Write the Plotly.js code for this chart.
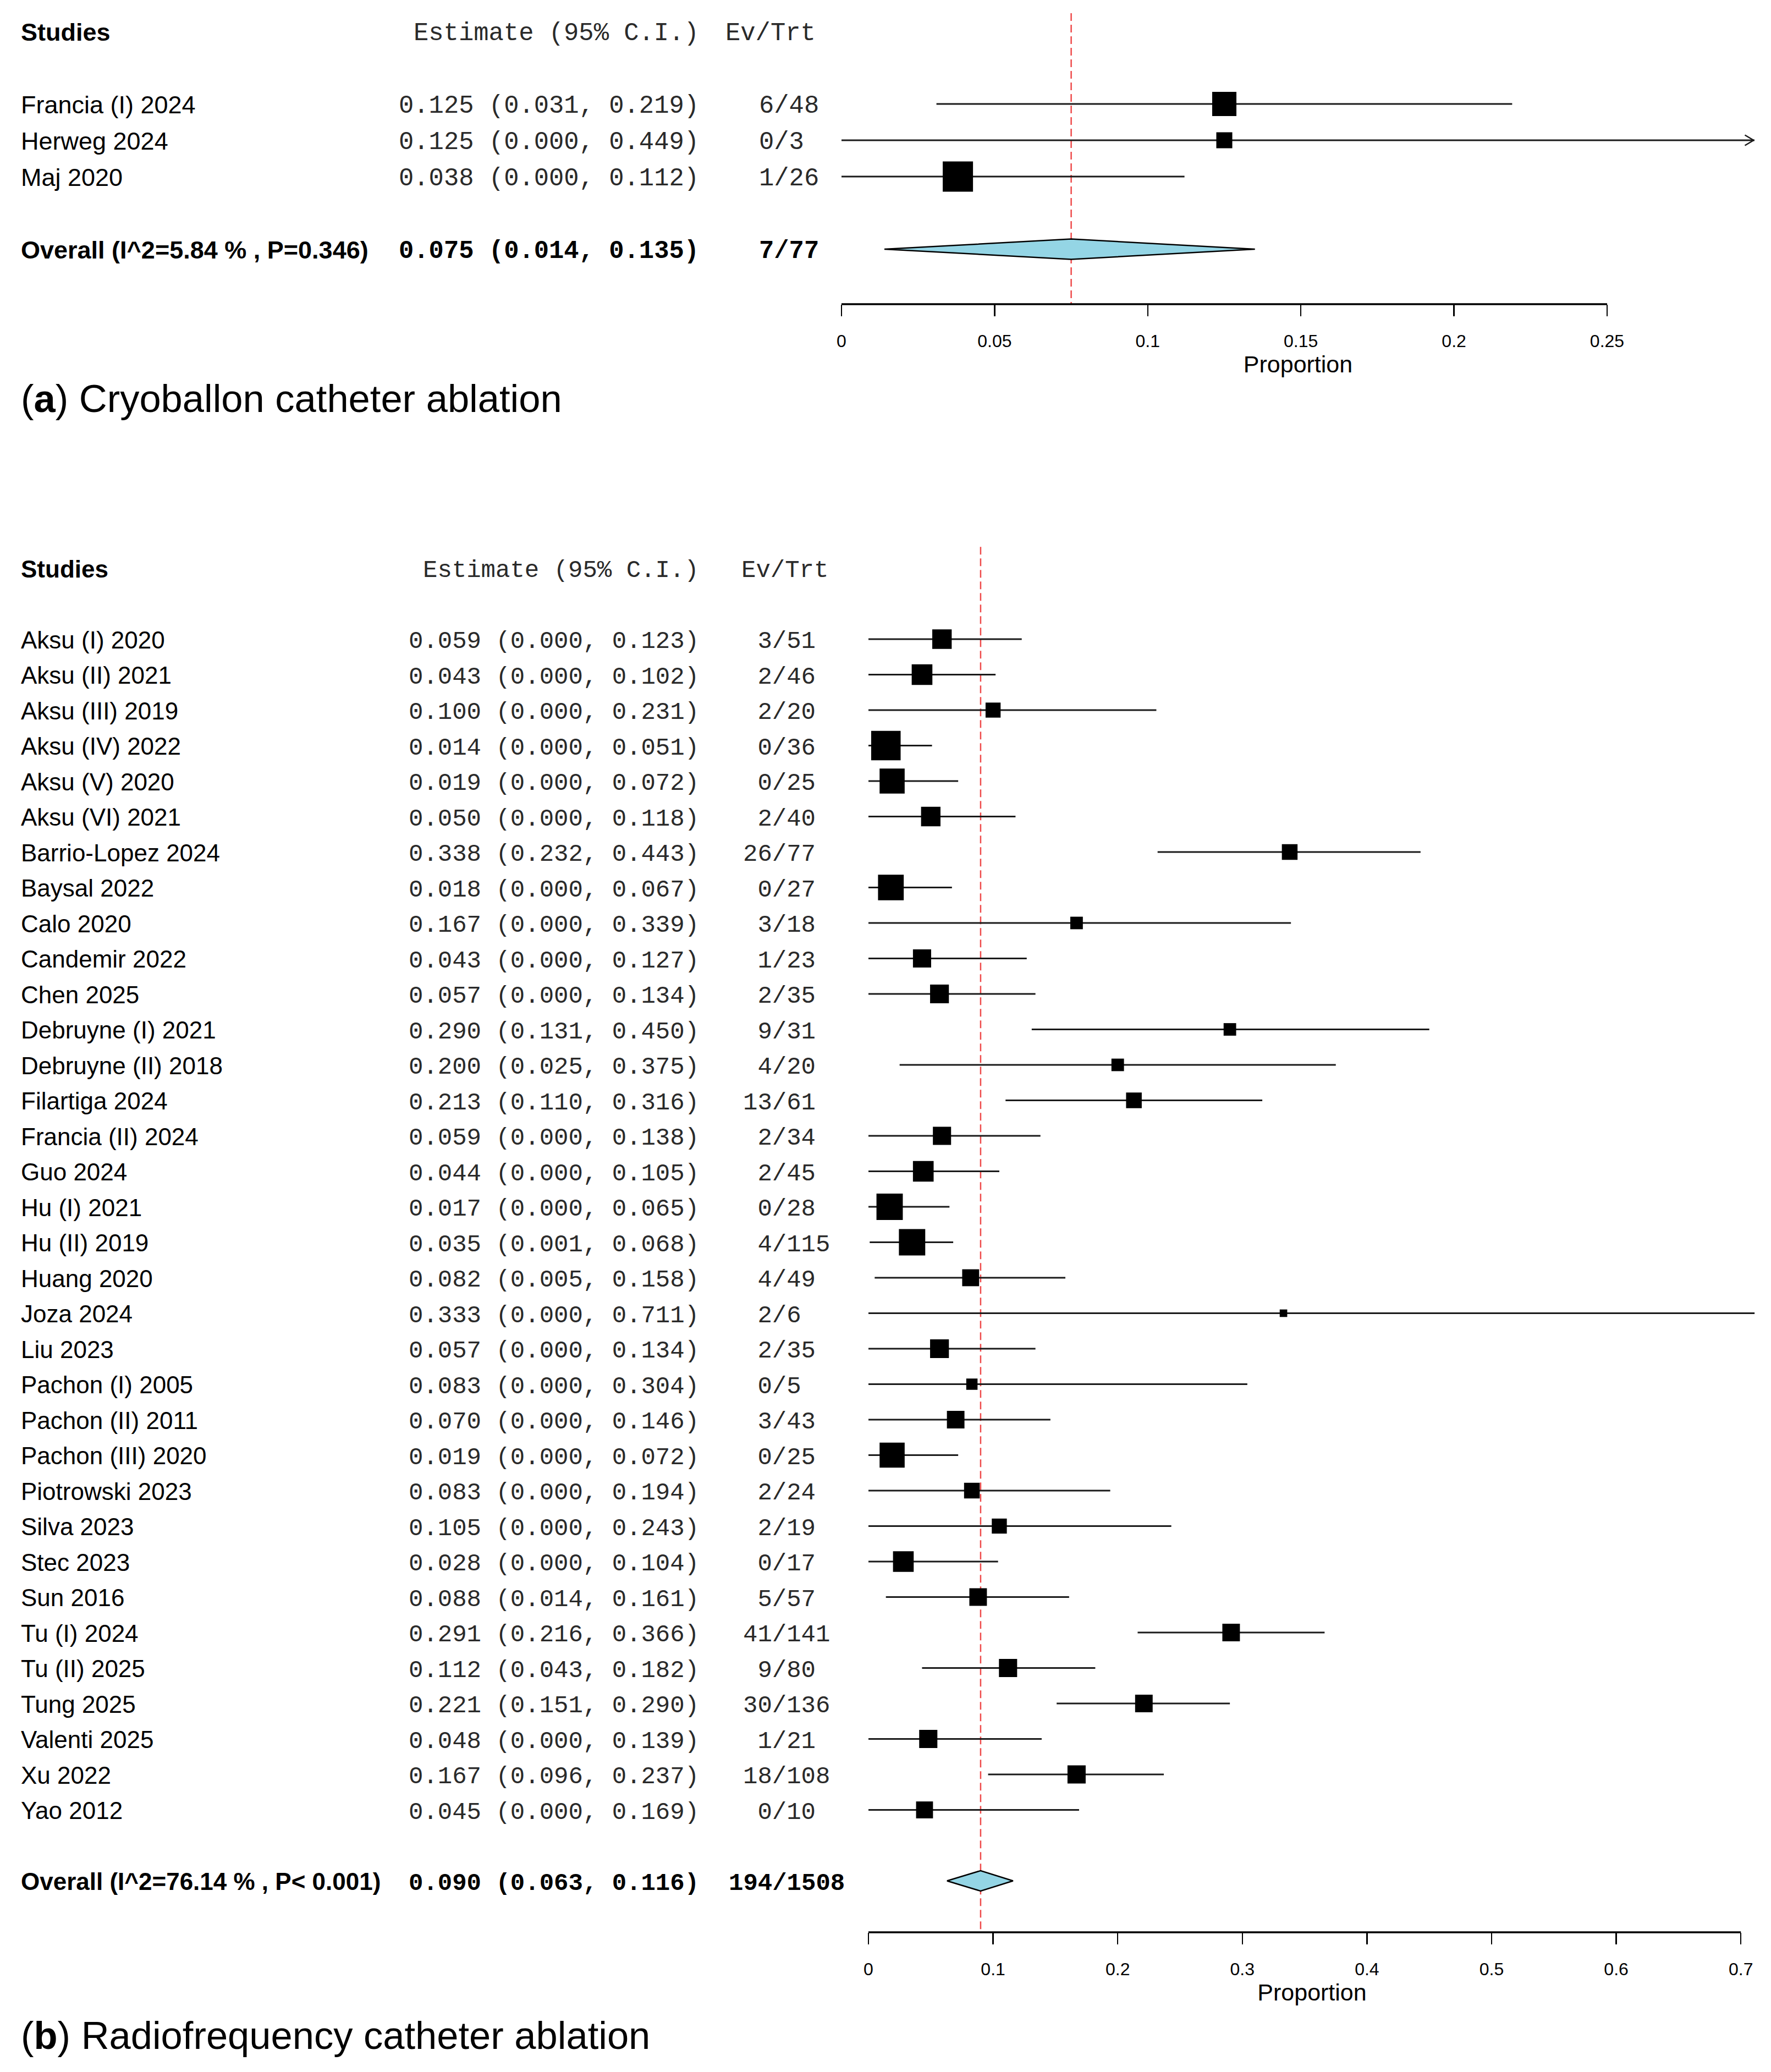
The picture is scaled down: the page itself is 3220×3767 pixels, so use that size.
<!DOCTYPE html>
<html><head><meta charset="utf-8">
<script src="https://cdn.plot.ly/plotly-3.0.1.min.js"></script>
<style>html,body{margin:0;padding:0;background:#fff}</style>
</head><body>
<div id="chart" style="width:3220px;height:3767px"></div>
<script>
// ---------------- DATA ----------------
// (a) Cryoballoon
const studiesA = ["Francia (I) 2024", "Herweg 2024", "Maj 2020"];
const estA = [0.125, 0.125, 0.038];
const lowA = [0.031, 0.000, 0.000];
const upA  = [0.219, 0.449, 0.112];
const evA  = [6, 0, 1];
const trtA = [48, 3, 26];
const weightA = [34.4, 22.7, 43.0];
const overallA = [0.075, 0.014, 0.135];
const overallEvTrtA = [7, 77];
const overallLabelA = "Overall (I^2=5.84 % , P=0.346)";
const tickValsA = [0, 0.05, 0.1, 0.15, 0.2, 0.25];
const tickTextA = ["0", "0.05", "0.1", "0.15", "0.2", "0.25"];

// (b) Radiofrequency
const studiesB = ["Aksu (I) 2020","Aksu (II) 2021","Aksu (III) 2019","Aksu (IV) 2022","Aksu (V) 2020","Aksu (VI) 2021",
  "Barrio-Lopez 2024","Baysal 2022","Calo 2020","Candemir 2022","Chen 2025","Debruyne (I) 2021","Debruyne (II) 2018",
  "Filartiga 2024","Francia (II) 2024","Guo 2024","Hu (I) 2021","Hu (II) 2019","Huang 2020","Joza 2024","Liu 2023",
  "Pachon (I) 2005","Pachon (II) 2011","Pachon (III) 2020","Piotrowski 2023","Silva 2023","Stec 2023","Sun 2016",
  "Tu (I) 2024","Tu (II) 2025","Tung 2025","Valenti 2025","Xu 2022","Yao 2012"];
const estB = [0.059,0.043,0.100,0.014,0.019,0.050,0.338,0.018,0.167,0.043,0.057,0.290,0.200,0.213,0.059,0.044,0.017,0.035,
  0.082,0.333,0.057,0.083,0.070,0.019,0.083,0.105,0.028,0.088,0.291,0.112,0.221,0.048,0.167,0.045];
const lowB = [0.000,0.000,0.000,0.000,0.000,0.000,0.232,0.000,0.000,0.000,0.000,0.131,0.025,0.110,0.000,0.000,0.000,0.001,
  0.005,0.000,0.000,0.000,0.000,0.000,0.000,0.000,0.000,0.014,0.216,0.043,0.151,0.000,0.096,0.000];
const upB  = [0.123,0.102,0.231,0.051,0.072,0.118,0.443,0.067,0.339,0.127,0.134,0.450,0.375,0.316,0.138,0.105,0.065,0.068,
  0.158,0.711,0.134,0.304,0.146,0.072,0.194,0.243,0.104,0.161,0.366,0.182,0.290,0.139,0.237,0.169];
const evB  = [3,2,2,0,0,2,26,0,3,1,2,9,4,13,2,2,0,4,4,2,2,0,3,0,2,2,0,5,41,9,30,1,18,0];
const trtB = [51,46,20,36,25,40,77,27,18,23,35,31,20,61,34,45,28,115,49,6,35,5,43,25,24,19,17,57,141,80,136,21,108,10];
const weightB = [3.1,3.3,2.4,4.7,4.0,3.1,2.5,4.1,2.0,2.9,3.0,2.0,2.0,2.5,2.9,3.3,4.2,4.2,2.7,1.2,3.0,1.8,2.8,4.0,
  2.5,2.4,3.3,2.8,2.8,2.9,2.8,2.9,2.9,2.7];
const overallB = [0.090, 0.063, 0.116];
const overallEvTrtB = [194, 1508];
const overallLabelB = "Overall (I^2=76.14 % , P< 0.001)";
const tickValsB = [0, 0.1, 0.2, 0.3, 0.4, 0.5, 0.6, 0.7];
const tickTextB = ["0", "0.1", "0.2", "0.3", "0.4", "0.5", "0.6", "0.7"];

// ---------------- LAYOUT GEOMETRY ----------------
const W = 3220, H = 3767;
const SANS = 'Arial, "Liberation Sans", sans-serif';
const MONO = '"Courier New", "Liberation Mono", monospace';
const NB = "\u00A0";

const panels = [
  { key: "", studies: studiesA, est: estA, low: lowA, up: upA, ev: evA, trt: trtA, w: weightA, boxScale: 1.28,
    ov: overallA, ovET: overallEvTrtA, ovLabel: overallLabelA, tv: tickValsA, tt: tickTextA, axisMax: 0.25,
    rowTop: 189, step: 66, axisPx: 553, topPx: 0, x0Px: 1530, ppu: 5568, rightPx: 3190,
    nameSize: 45, monoSize: 45.5, estRight: 1273, evCenter: 1434, hdrEvRight: 1485, redTop: -2.5,
    caption: "(<b>a</b>) Cryoballon catheter ablation", capY: 724 },
  { key: "2", studies: studiesB, est: estB, low: lowB, up: upB, ev: evB, trt: trtB, w: weightB, boxScale: 11.4,
    ov: overallB, ovET: overallEvTrtB, ovLabel: overallLabelB, tv: tickValsB, tt: tickTextB, axisMax: 0.7,
    rowTop: 1162, step: 64.5, axisPx: 3513, topPx: 900, x0Px: 1579, ppu: 2266, rightPx: 3192,
    nameSize: 44, monoSize: 44, estRight: 1273, evCenter: 1430, hdrEvRight: 1508, redTop: -2.6,
    caption: "(<b>b</b>) Radiofrequency catheter ablation", capY: 3700 }
];

const traces = [], annotations = [], shapes = [];
const layout = {
  width: W, height: H, margin: {l: 0, r: 0, t: 0, b: 0},
  paper_bgcolor: "#fff", plot_bgcolor: "rgba(0,0,0,0)", showlegend: false,
  font: {family: SANS, color: "#000"}
};

function fmt(v) { return v.toFixed(3); }
function padL(s, n) { s = String(s); while (s.length < n) s = NB + s; return s; }
function padR(s, n) { s = String(s); while (s.length < n) s = s + NB; return s; }

panels.forEach(p => {
  const xa = "x" + p.key, ya = "y" + p.key;
  const n = p.studies.length;
  const rows = p.studies.map((_, i) => i);
  const ovRow = n + 1, hdrRow = -2;
  const yBottom = (p.axisPx - p.rowTop) / p.step;
  const yTop = (p.topPx - p.rowTop) / p.step;
  const xMax = (p.rightPx - p.x0Px) / p.ppu;

  layout["xaxis" + p.key] = {
    domain: [p.x0Px / W, p.rightPx / W], range: [0, xMax], anchor: ya,
    showgrid: false, zeroline: false, showline: false,
    tickmode: "array", tickvals: p.tv, ticktext: p.tt,
    ticks: "outside", ticklen: 21, tickwidth: 2.5, tickcolor: "#000",
    ticklabelstandoff: 18,
    tickfont: {family: SANS, size: 32, color: "#000"},
    title: {text: "Proportion", font: {family: SANS, size: 43, color: "#000"}, standoff: 8},
    fixedrange: true
  };
  layout["yaxis" + p.key] = {
    domain: [1 - p.axisPx / H, 1 - p.topPx / H], range: [yBottom, yTop], anchor: xa,
    visible: false, showgrid: false, zeroline: false, fixedrange: true
  };

  // axis line
  shapes.push({type: "line", xref: xa, yref: ya + " domain", x0: 0, x1: p.axisMax, y0: 0, y1: 0,
    line: {color: "#000", width: 3.5}});
  // reference (summary) dashed line
  shapes.push({type: "line", xref: xa, yref: ya, x0: p.ov[0], x1: p.ov[0], y0: p.redTop, y1: yBottom,
    line: {color: "#EE4A4A", width: 2.5, dash: "14px,7px"}, layer: "below"});

  // CI lines
  const lx = [], ly = [];
  rows.forEach(i => { lx.push(p.low[i], p.up[i], null); ly.push(i, i, null); });
  traces.push({type: "scatter", mode: "lines", x: lx, y: ly, xaxis: xa, yaxis: ya,
    line: {color: "#1a1a1a", width: 3}, hoverinfo: "skip"});

  // arrows for truncated CIs
  const ax = [], ay = [];
  const dx = 16 / p.ppu, dy = 9.5 / p.step;
  rows.forEach(i => {
    if (p.up[i] > xMax) {
      const tip = xMax - 1.5 / p.ppu;
      ax.push(tip - dx, tip, tip - dx, null); ay.push(i - dy, i, i + dy, null);
    }
  });
  if (ax.length) traces.push({type: "scatter", mode: "lines", x: ax, y: ay, xaxis: xa, yaxis: ya,
    line: {color: "#1a1a1a", width: 2.5}, hoverinfo: "skip", cliponaxis: false});

  // squares
  traces.push({type: "scatter", mode: "markers", x: p.est, y: rows, xaxis: xa, yaxis: ya,
    marker: {symbol: "square", color: "#000", opacity: 1, size: p.w.map(v => v * p.boxScale), line: {width: 0}},
    hoverinfo: "skip", cliponaxis: false});

  // summary diamond
  const h = 18.5 / p.step;
  traces.push({type: "scatter", mode: "lines", fill: "toself", fillcolor: "#94D5E5",
    x: [p.ov[1], p.ov[0], p.ov[2], p.ov[0], p.ov[1]],
    y: [ovRow, ovRow - h, ovRow, ovRow + h, ovRow], xaxis: xa, yaxis: ya,
    line: {color: "#000", width: 2.5}, hoverinfo: "skip"});

  // text columns
  const nameFont = {family: SANS, size: p.nameSize, color: "#000"};
  const monoFont = {family: MONO, size: p.monoSize, color: "#2a2a2a"};
  const evW = Math.max(...p.ev.map(v => String(v).length));
  const trtW = Math.max(...p.trt.map(v => String(v).length));

  const addText = (text, xPx, row, anchor, font, ysh) => annotations.push({
    text: text, xref: "paper", yref: ya, x: xPx / W, y: row, xanchor: anchor, yanchor: "middle",
    showarrow: false, font: font, align: anchor === "right" ? "right" : "left", yshift: ysh || 0
  });

  // headers
  addText("<b>Studies</b>", 36, hdrRow, "left", nameFont, -1);
  addText("Estimate" + NB + "(95%" + NB + "C.I.)", p.estRight, hdrRow, "right", monoFont, -4);
  addText("Ev/Trt", p.hdrEvRight, hdrRow, "right", monoFont, -4);

  rows.forEach(i => {
    addText(p.studies[i], 36, i, "left", nameFont, -1);
    addText(fmt(p.est[i]) + NB + "(" + fmt(p.low[i]) + "," + NB + fmt(p.up[i]) + ")", p.estRight, i, "right", monoFont, -4);
    addText(padL(p.ev[i], evW) + "/" + padR(p.trt[i], trtW), p.evCenter, i, "center", monoFont, -4);
  });

  const boldName = Object.assign({}, nameFont);
  const boldMono = Object.assign({}, monoFont, {color: "#000"});
  addText("<b>" + p.ovLabel + "</b>", 36, ovRow, "left", boldName, -1);
  addText("<b>" + fmt(p.ov[0]) + NB + "(" + fmt(p.ov[1]) + "," + NB + fmt(p.ov[2]) + ")</b>", p.estRight, ovRow, "right", boldMono, -4);
  addText("<b>" + p.ovET[0] + "/" + p.ovET[1] + "</b>", p.evCenter, ovRow, "center", boldMono, -4);

  // caption
  annotations.push({text: p.caption, xref: "paper", yref: "paper", x: 36 / W, y: 1 - p.capY / H,
    xanchor: "left", yanchor: "middle", showarrow: false, font: {family: SANS, size: 70.5, color: "#000"}});
});

layout.annotations = annotations;
layout.shapes = shapes;

Plotly.newPlot("chart", traces, layout, {staticPlot: true, displayModeBar: false});
</script>
</body></html>
